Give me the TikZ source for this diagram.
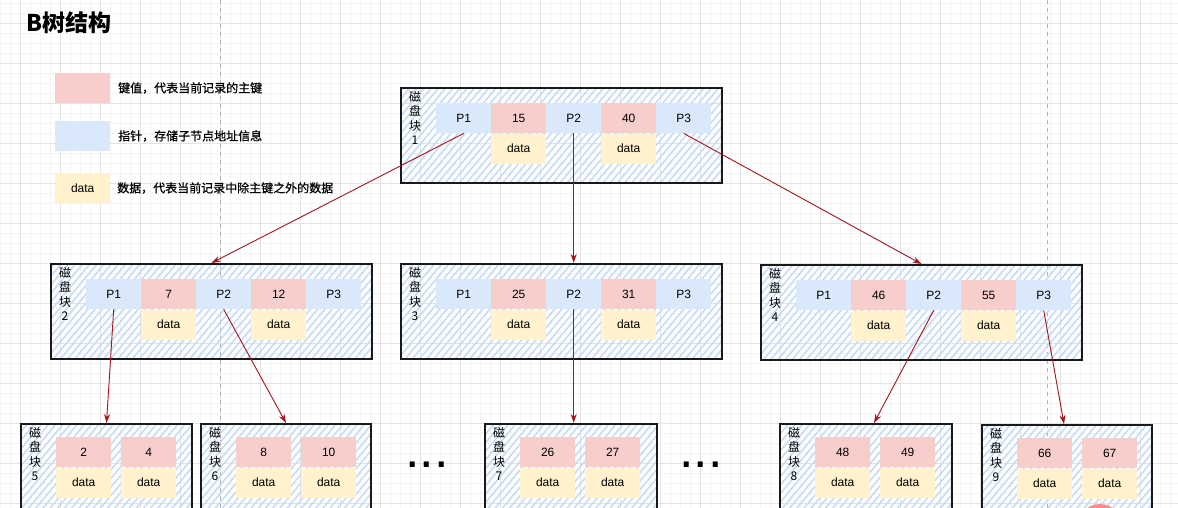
\documentclass[tikz,border=0pt]{standalone}
\usepackage{fontspec}
\setmainfont{Liberation Sans}
\newfontfamily\cjk{Noto Sans CJK SC}
\newfontfamily\cjkb{Noto Sans CJK SC}[FakeBold=0.6]
\usetikzlibrary{patterns.meta,arrows.meta}
\definecolor{keyred}{HTML}{F8CECC}
\definecolor{ptrblue}{HTML}{DAE8FC}
\definecolor{datayel}{HTML}{FFF2CC}
\definecolor{hatchblue}{HTML}{C3DAF8}
\definecolor{linkred}{HTML}{A3141B}
\definecolor{gridmajor}{HTML}{E3E3E3}
\definecolor{gridminor}{HTML}{F4F4F4}
\tikzset{
  cell/.style={minimum width=55pt,minimum height=30pt,inner sep=0pt,font=\fontsize{12}{14}\selectfont},
  keycell/.style={cell,fill=keyred},
  ptrcell/.style={cell,fill=ptrblue},
  datacell/.style={cell,fill=datayel},
  disk/.style={draw=black!90,line width=2pt,anchor=north west,inner sep=0pt,
    pattern={Lines[angle=50,distance=5.5pt,line width=1.5pt]},pattern color=hatchblue},
  blocklabel/.style={anchor=north,align=center,inner sep=0pt,font=\cjk\fontsize{12}{14.5}\selectfont},
  legendtext/.style={anchor=west,inner sep=0pt,font=\cjkb\fontsize{12}{14}\selectfont},
  link/.style={draw=linkred,line width=0.9pt,-{Stealth[length=9pt,width=6pt]}}
}
\begin{document}
\begin{tikzpicture}[x=1pt,y=-1pt]
\useasboundingbox (0,0) rectangle (1178,508);
\clip (0,0) rectangle (1178,508);
\fill[white] (0,0) rectangle (1178,508);
% background grid
\foreach \x in {0.7,10.7,...,1178} \draw[gridminor,line width=0.8pt] (\x,0) -- (\x,508);
\foreach \y in {3.3,13.3,...,508} \draw[gridminor,line width=0.8pt] (0,\y) -- (1178,\y);
\foreach \x in {20.7,60.7,...,1178} \draw[gridmajor,line width=0.9pt] (\x,0) -- (\x,508);
\foreach \y in {23.3,63.3,...,508} \draw[gridmajor,line width=0.9pt] (0,\y) -- (1178,\y);
\foreach \x in {220,1047.5} \draw[gray!60,dash pattern=on 4pt off 4pt] (\x,0) -- (\x,508);

\node[anchor=west,inner sep=0pt,font=\cjk\bfseries\fontsize{23}{26}\selectfont] (title) at (26,23) {B树结构};

% legend
\node[keycell,anchor=north west] (lkey) at (55,73) {};
\node[ptrcell,anchor=north west] (lptr) at (55,121) {};
\node[datacell,anchor=north west] (ldata) at (55,173) {data};
\node[legendtext] (lkeyt) at (118,88) {键值，代表当前记录的主键};
\node[legendtext] (lptrt) at (118,136) {指针，存储子节点地址信息};
\node[legendtext] (ldatat) at (117,188) {数据，代表当前记录中除主键之外的数据};

% blocks with pointers
\foreach \b/\x/\y/\ka/\kb in {1/400/87/15/40, 2/50/263/7/12, 3/400/263/25/31, 4/760/264/46/55}{
  \node[disk,minimum width=321pt,minimum height=95pt] (b\b) at (\x,\y) {};
  \node[blocklabel] (b\b l) at ({\x+15},{\y+4}) {磁\\盘\\块\\\b};
  \foreach \t/\s [count=\i] in {P1/ptrcell,\ka/keycell,P2/ptrcell,\kb/keycell,P3/ptrcell}
    \node[\s,anchor=north west] (b\b c\i) at ({\x+36+55*(\i-1)},{\y+16}) {\t};
  \node[datacell,anchor=north] (b\b d2) at (b\b c2.south) {data};
  \node[datacell,anchor=north] (b\b d4) at (b\b c4.south) {data};
}

% leaf blocks
\foreach \b/\x/\y/\w/\ka/\kb in {5/20/423/171/2/4, 6/200/423/170/8/10, 7/484/423/172/26/27, 8/779/423/172/48/49, 9/981/424/170/66/67}{
  \node[disk,minimum width=\w pt,minimum height=95pt] (b\b) at (\x,\y) {};
  \node[blocklabel] (b\b l) at ({\x+15},{\y+4}) {磁\\盘\\块\\\b};
  \node[keycell,anchor=north west] (b\b c1) at ({\x+36},{\y+14}) {\ka};
  \node[keycell,anchor=north west] (b\b c2) at ({\x+101},{\y+14}) {\kb};
  \node[datacell,anchor=north] (b\b d1) at (b\b c1.south) {data};
  \node[datacell,anchor=north] (b\b d2) at (b\b c2.south) {data};
}

\node[anchor=base,inner sep=0pt,font=\fontsize{52}{52}\selectfont] (dots1) at (427,467) {...};
\node[anchor=base,inner sep=0pt,font=\fontsize{52}{52}\selectfont] (dots2) at (701,467) {...};

\fill[red!45!white] (1100,526) circle (22);

% links
\draw[link] (b1c1.south) -- (b2.north);
\draw[link] (b1c3.south) -- (b1c3.south |- b3.north);
\draw[link] (b1c5.south) -- (b4.north);
\draw[link] (b2c1.south) -- (b5.north);
\draw[link] (b2c3.south) -- (b6.north);
\draw[link] (b3c3.south) -- (b3c3.south |- b7.north);
\draw[link] (b4c3.south) -- ([xshift=8pt]b8.north);
\draw[link] (b4c5.south) -- ([xshift=-3pt]b9.north);
\end{tikzpicture}
\end{document}
